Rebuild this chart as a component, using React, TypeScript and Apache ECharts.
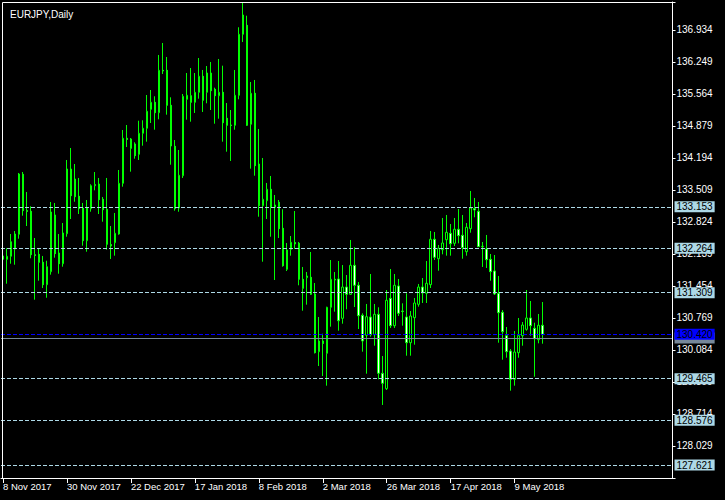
import React, { useEffect, useRef } from 'react';
import * as echarts from 'echarts';

const chartTitle = 'EURJPY,Daily';

// OHLC, daily bars starting 8 Nov 2017
const opens = [
  132.025, 132.025, 132.090, 132.246, 132.561, 133.845, 133.070, 133.053, 132.124, 132.132,
  131.961, 131.482, 131.760, 132.974, 132.160, 131.931, 132.573, 133.958, 133.744, 133.374,
  133.124, 132.424, 133.109, 133.601, 133.637, 133.310, 133.096, 132.342, 132.381, 132.567,
  133.652, 134.616, 134.601, 134.494, 134.273, 134.723, 134.830, 135.236, 135.386, 135.164,
  136.071, 136.071, 135.322, 134.444, 133.124, 133.815, 135.450, 135.527, 135.386, 135.600,
  135.943, 135.600, 136.013, 135.664, 135.527, 135.600, 135.044, 134.900, 134.894, 135.536,
  136.842, 137.034, 134.915, 135.579, 134.065, 133.173, 133.280, 133.524, 133.139, 133.246,
  132.689, 131.811, 132.240, 132.385, 132.368, 131.597, 131.632, 131.640, 131.283, 130.048,
  130.277, 130.013, 130.998, 131.597, 131.604, 130.762, 131.432, 131.276, 131.897, 131.469,
  130.827, 130.399, 130.790, 130.411, 130.848, 129.585, 129.256, 131.190, 130.604, 131.454,
  130.919, 130.790, 130.240, 130.775, 131.062, 131.432, 131.298, 131.482, 132.454, 132.038,
  132.231, 132.445, 132.582, 132.368, 132.668, 132.539, 132.188, 132.681, 133.113, 133.053,
  132.295, 132.246, 132.025, 131.775, 131.298, 130.891, 130.390, 130.063, 129.457, 130.026,
  130.390, 130.527, 130.769, 130.548, 130.304, 130.613,
];
const closes = [
  132.097, 132.090, 132.403, 132.567, 133.851, 133.066, 133.049, 132.124, 132.107, 131.961,
  131.482, 131.867, 133.038, 132.146, 131.931, 132.589, 133.958, 133.387, 133.365, 133.109,
  132.424, 133.124, 133.601, 133.627, 133.301, 133.087, 132.347, 132.310, 132.582, 133.652,
  134.616, 134.590, 134.401, 134.243, 134.723, 134.830, 135.194, 135.386, 135.164, 136.071,
  136.056, 135.322, 134.451, 133.109, 133.824, 135.515, 135.536, 135.386, 135.600, 135.943,
  135.429, 136.013, 135.634, 135.527, 135.600, 134.949, 134.894, 134.889, 135.536, 136.842,
  137.255, 134.894, 135.579, 134.029, 133.173, 133.310, 133.524, 133.139, 133.188, 132.681,
  131.888, 132.225, 132.389, 132.353, 131.597, 131.405, 131.668, 131.276, 130.026, 130.277,
  130.223, 130.998, 131.597, 131.582, 130.711, 131.432, 131.276, 131.897, 131.469, 130.818,
  130.277, 130.797, 130.411, 130.848, 129.585, 129.371, 131.148, 130.604, 131.469, 130.869,
  130.908, 130.240, 130.812, 131.090, 131.432, 131.304, 131.512, 132.454, 132.068, 132.261,
  132.374, 132.603, 132.359, 132.668, 132.531, 132.274, 132.711, 133.124, 133.081, 132.295,
  132.304, 132.017, 131.760, 131.283, 130.882, 130.475, 130.048, 129.457, 130.041, 130.390,
  130.619, 130.769, 130.604, 130.326, 130.613, 130.420,
];
const lows = [
  131.967, 131.503, 131.931, 131.910, 132.466, 132.959, 132.738, 132.047, 131.161, 131.567,
  131.411, 131.203, 131.696, 132.060, 131.717, 131.867, 132.509, 132.888, 133.258, 132.995,
  132.317, 132.188, 133.044, 133.502, 132.995, 132.830, 132.231, 132.032, 132.103, 132.552,
  133.580, 134.429, 133.901, 134.179, 134.151, 134.457, 134.543, 134.943, 134.800, 135.022,
  135.992, 135.121, 134.050, 133.066, 133.044, 133.766, 135.014, 134.971, 135.157, 135.463,
  135.179, 135.365, 135.221, 134.928, 135.035, 134.543, 134.329, 134.130, 134.800, 135.450,
  136.677, 134.879, 133.965, 133.815, 132.937, 131.974, 132.888, 132.509, 131.582, 132.481,
  131.867, 131.775, 132.103, 132.246, 131.469, 130.925, 131.054, 131.261, 130.010, 129.741,
  129.527, 129.320, 130.583, 130.904, 130.497, 130.647, 130.955, 131.261, 131.004, 130.533,
  130.048, 129.577, 130.369, 130.176, 129.457, 128.907, 129.228, 130.555, 130.555, 130.812,
  130.604, 129.962, 129.962, 130.197, 131.011, 131.090, 131.090, 131.411, 132.010, 131.781,
  132.132, 132.103, 132.103, 132.310, 132.368, 132.038, 132.103, 132.595, 132.925, 132.289,
  131.861, 131.839, 131.567, 131.261, 130.240, 129.876, 129.919, 129.213, 129.320, 129.919,
  130.176, 130.497, 130.390, 129.512, 130.227, 130.219,
];
const highs = [
  132.139, 132.261, 132.567, 132.631, 133.873, 133.894, 133.466, 133.160, 132.481, 132.246,
  132.097, 131.995, 133.252, 133.231, 132.567, 132.802, 134.151, 134.408, 134.065, 133.766,
  133.231, 133.295, 133.631, 133.894, 133.766, 133.359, 133.766, 132.738, 133.017, 133.937,
  134.793, 134.900, 134.622, 134.530, 134.992, 135.001, 135.542, 135.649, 135.515, 136.399,
  136.656, 136.356, 135.493, 134.579, 134.365, 135.564, 136.013, 136.120, 136.013, 136.334,
  136.078, 136.163, 136.249, 135.699, 136.313, 136.170, 135.371, 135.221, 136.078, 136.992,
  137.518, 137.240, 135.821, 135.864, 134.815, 134.194, 133.659, 133.809, 133.402, 133.295,
  133.096, 132.374, 132.524, 133.059, 132.396, 131.861, 131.754, 132.182, 131.518, 130.790,
  130.433, 131.010, 132.010, 131.754, 131.989, 131.903, 131.689, 132.439, 132.282, 131.539,
  130.869, 131.069, 131.711, 131.069, 130.998, 129.955, 131.368, 131.818, 131.711, 131.604,
  131.083, 131.298, 130.919, 131.197, 131.497, 131.625, 131.989, 132.631, 132.610, 132.332,
  132.910, 132.974, 132.781, 132.910, 133.102, 132.974, 132.802, 133.488, 133.338, 133.252,
  132.396, 132.546, 132.139, 132.117, 131.668, 130.940, 130.576, 130.105, 130.490, 130.769,
  130.683, 131.368, 131.133, 130.668, 130.855, 131.111,
];

const firstDay = [2017, 10, 8]; // 8 Nov 2017 (month index 10)
const marketHolidays = ['2017-12-25', '2018-01-01'];
const monthNames = ['Jan', 'Feb', 'Mar', 'Apr', 'May', 'Jun', 'Jul', 'Aug', 'Sep', 'Oct', 'Nov', 'Dec'];
const emptySlotsRight = 32;
const dateLabelEvery = 16;

const priceTickLabels = [
  '', '128.029', '128.714', '129.399', '130.084', '130.769', '131.454', '132.139',
  '132.824', '133.509', '134.194', '134.879', '135.564', '136.249', '136.934',
];
const priceMin = 127.344;
const priceMax = 137.533;
const priceTickStep = 0.685;

const levelPrices = [133.153, 132.264, 131.309, 129.465, 128.576, 127.621];
const bidLinePrice = 130.34;
const lastPrice = 130.42;

const FONT = '"Liberation Sans", Arial, sans-serif';

function buildDates(n: number): string[] {
  const out: string[] = [];
  const d = new Date(Date.UTC(firstDay[0], firstDay[1], firstDay[2]));
  while (out.length < n) {
    const wd = d.getUTCDay();
    const iso = d.toISOString().slice(0, 10);
    if (wd !== 0 && wd !== 6 && !marketHolidays.includes(iso)) {
      out.push(`${d.getUTCDate()} ${monthNames[d.getUTCMonth()]} ${d.getUTCFullYear()}`);
    }
    d.setUTCDate(d.getUTCDate() + 1);
  }
  return out;
}

export default function App() {
  const ref = useRef<HTMLDivElement>(null);

  useEffect(() => {
    document.body.style.margin = '0';
    document.body.style.background = '#000';
    if (!ref.current) return;
    const chart = echarts.init(ref.current, undefined, { renderer: 'svg' });

    const n = opens.length;
    const dates = buildDates(n);
    const categories = [...dates];
    for (let i = 0; i < emptySlotsRight; i++) categories.push('_' + i);
    const candles = opens.map((o, i) => [o, closes[i], lows[i], highs[i]]);

    const showDate = (idx: number, val: string) =>
      idx % dateLabelEvery === 0 && !String(val).startsWith('_');

    const boxLabel = (text: string, bg: string, fg: string) => ({
      show: true,
      position: 'end',
      distance: 2,
      formatter: text,
      backgroundColor: bg,
      color: fg,
      fontSize: 10,
      fontFamily: FONT,
      lineHeight: 11,
      padding: [0, 2, 0, 2],
    });

    const levelLines = levelPrices.map((p) => ({
      yAxis: p,
      lineStyle: { color: '#ADD8E6', type: [4, 2], width: 1 },
      label: boxLabel(p.toFixed(3), '#ADD8E6', '#000'),
    }));

    chart.setOption({
      animation: false,
      backgroundColor: '#000',
      title: {
        text: chartTitle,
        left: 5,
        top: 4,
        textStyle: { color: '#fff', fontSize: 10, fontWeight: 'normal', fontFamily: FONT },
      },
      grid: { left: 0.5, top: 2, width: 672, height: 476, containLabel: false },
      xAxis: {
        type: 'category',
        data: categories,
        boundaryGap: true,
        axisLine: { show: true, lineStyle: { color: '#fff', width: 1 } },
        axisTick: {
          show: true,
          alignWithLabel: true,
          interval: showDate,
          length: 5,
          lineStyle: { color: '#fff' },
        },
        axisLabel: {
          interval: showDate,
          color: '#fff',
          fontSize: 9.5,
          fontFamily: FONT,
          align: 'left',
          margin: 3,
          formatter: (v: string) => (String(v).startsWith('_') ? '' : v),
        },
        splitLine: { show: false },
      },
      yAxis: [
        {
          type: 'value',
          position: 'right',
          min: priceMin,
          max: priceMax,
          axisLine: { show: false },
          axisTick: { show: false },
          axisLabel: { show: false },
          splitLine: { show: false },
        },
        {
          type: 'value',
          position: 'right',
          min: 0,
          max: (priceMax - priceMin) / priceTickStep,
          interval: 1,
          axisLine: { show: true, lineStyle: { color: '#fff', width: 1 } },
          axisTick: { show: true, length: 3, lineStyle: { color: '#fff' } },
          axisLabel: {
            color: '#fff',
            fontSize: 10,
            fontFamily: FONT,
            margin: 4,
            formatter: (v: number) => priceTickLabels[Math.round(v)] ?? '',
          },
          splitLine: { show: false },
        },
      ],
      series: [
        {
          type: 'candlestick',
          xAxisIndex: 0,
          yAxisIndex: 0,
          data: candles,
          barWidth: 2,
          itemStyle: {
            color: '#000000',
            color0: '#ffffff',
            borderColor: '#00ff00',
            borderColor0: '#00ff00',
            borderWidth: 1,
          },
          markLine: {
            silent: true,
            symbol: ['none', 'none'],
            animation: false,
            data: [
              ...levelLines,
              {
                yAxis: bidLinePrice,
                lineStyle: { color: '#778899', type: 'solid', width: 1 },
                label: boxLabel(bidLinePrice.toFixed(3), '#778899', '#778899'),
              },
              {
                yAxis: lastPrice,
                lineStyle: { color: '#0000ff', type: [4, 2], width: 1 },
                label: boxLabel(lastPrice.toFixed(3), '#0000ff', '#000'),
              },
            ],
          },
        },
      ],
      graphic: [
        {
          type: 'rect',
          z: 100,
          silent: true,
          shape: { x: 2.5, y: 2.5, width: 670, height: 476 },
          style: { fill: 'none', stroke: '#fff', lineWidth: 1 },
        },
      ],
    });

    return () => chart.dispose();
  }, []);

  return <div ref={ref} style={{ width: 725, height: 500, background: '#000' }} />;
}
